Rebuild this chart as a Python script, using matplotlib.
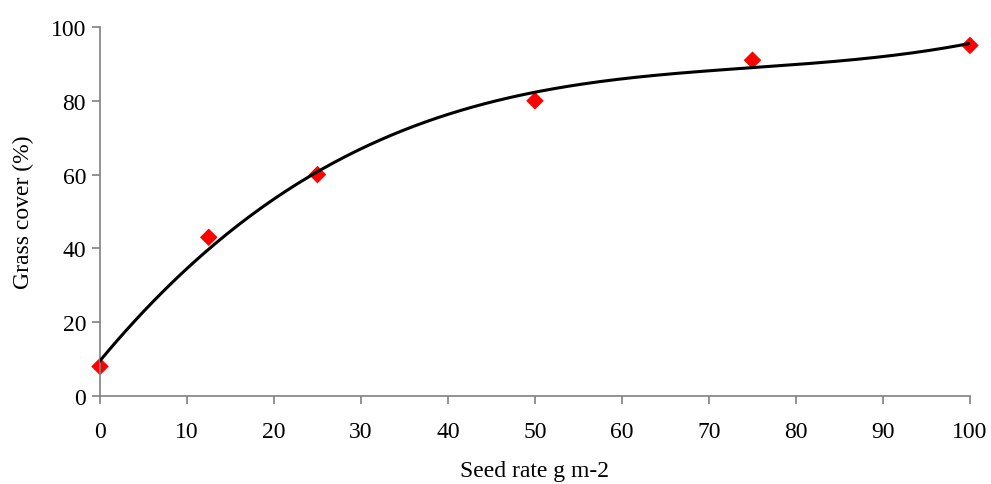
import numpy as np
import matplotlib
matplotlib.use("Agg")
import matplotlib.pyplot as plt

# seed rate (g m-2) and grass cover (%)
seed_rate = [0, 12.5, 25, 50, 75, 100]
grass_cover = [8, 43, 60, 80, 91, 95]

x_ticks = [0, 10, 20, 30, 40, 50, 60, 70, 80, 90, 100]
y_ticks = [0, 20, 40, 60, 80, 100]

plt.rcParams['font.family'] = ['Liberation Serif', 'DejaVu Serif']

fig = plt.figure(figsize=(9.91, 4.85), dpi=100)
ax = fig.add_axes([0.1009, 0.1814, 0.8779, 0.7609])

# 3rd order polynomial trendline
coef = np.polyfit(seed_rate, grass_cover, 3)
xs = np.linspace(0, 100, 300)
ax.plot(xs, np.polyval(coef, xs), color='black', lw=2.2, zorder=3)

ax.scatter(seed_rate, grass_cover, marker='D', s=80, color='#ff0000',
           edgecolors='none', zorder=2, clip_on=False)

ax.set_xlim(0, 100)
ax.set_ylim(0, 100)
ax.set_xticks(x_ticks)
ax.set_yticks(y_ticks)

for s in ['top', 'right']:
    ax.spines[s].set_visible(False)
for s in ['left', 'bottom']:
    ax.spines[s].set_color('#808080')
    ax.spines[s].set_linewidth(1.2)

ax.tick_params(axis='both', direction='out', length=6, width=1.2,
               color='#808080', labelsize=17)
ax.tick_params(axis='x', pad=12)
ax.tick_params(axis='y', pad=4)

ax.set_xlabel('Seed rate g m-2', fontsize=17, labelpad=13)
ax.set_ylabel('Grass cover (%)', fontsize=17, labelpad=12)

fig.savefig('out.png', dpi=100)
